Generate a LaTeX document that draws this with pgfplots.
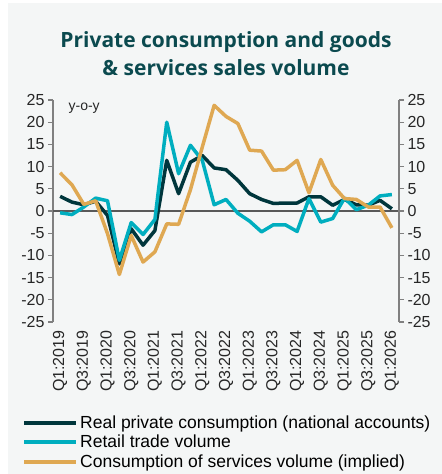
\documentclass[border=0pt]{standalone}
\usepackage{pgfplots}
\pgfplotsset{compat=1.18}
\usepackage{fontspec}
\setmainfont{Liberation Sans}
\newfontfamily\titlefont{Open Sans}
\definecolor{bg}{HTML}{F4F6F6}
\definecolor{darkc}{HTML}{00363C}
\definecolor{tealc}{HTML}{00AEBF}
\definecolor{goldc}{HTML}{DFA852}
\definecolor{titlec}{HTML}{0B4A4F}
\definecolor{axgray}{HTML}{808080}
\definecolor{zerogray}{HTML}{595959}
\pgfplotstableread{
i  pc    rt    sv
0  3.3  -0.4   8.6
1  2.0  -0.8   5.9
2  1.4   0.9   1.5
3  2.2   2.9   2.3
4 -1.0   2.3  -5.1
5 -11.9 -11.1 -14.3
6 -4.0  -2.6  -5.5
7 -7.7  -5.3 -11.5
8 -4.4  -1.9  -9.2
9  11.4  20.0 -2.9
10 3.9   8.4  -3.0
11 11.0  14.8  4.8
12 12.5  11.4 14.4
13 9.7   1.4  23.8
14 9.3   2.6  21.3
15 6.9  -0.5  19.7
16 3.9  -2.3  13.7
17 2.6  -4.7  13.5
18 1.7  -3.1   9.2
19 1.8  -3.1   9.3
20 1.8  -4.6  11.4
21 3.2   2.8   4.1
22 3.2  -2.5  11.6
23 1.3  -1.7   5.8
24 2.6   2.9   2.8
25 1.4   0.3   2.6
26 1.3   1.3   0.9
27 2.4   3.4   0.9
28 0.5   3.7  -3.8
}\data
\begin{document}
\begin{tikzpicture}
\fill[white] (-53bp,-152bp) rectangle (389bp,322bp);
\fill[bg] (-45bp,-152bp) rectangle (389bp,319bp);
\useasboundingbox (-53bp,-152bp) rectangle (389bp,322bp);
\node[font=\titlefont\bfseries\fontsize{21bp}{28bp}\selectfont, text=titlec, align=center] at (173bp,268bp) {Private consumption and goods\\ \& services sales volume};
\begin{axis}[
  at={(0,0)}, anchor=south west, scale only axis,
  width=346bp, height=222bp,
  xmin=-0.6, xmax=28.6, ymin=-25, ymax=25,
  ytick={-25,-20,...,25},
  xtick={0,2,...,28},
  xticklabels={Q1:2019,Q3:2019,Q1:2020,Q3:2020,Q1:2021,Q3:2021,Q1:2022,Q3:2022,Q1:2023,Q3:2023,Q1:2024,Q3:2024,Q1:2025,Q3:2025,Q1:2026},
  axis y line*=left, axis x line*=bottom,
  axis line style={-},
  x axis line style={draw=none},
  xtick style={draw=none},
  y axis line style={axgray, line width=1.5bp},
  ytick style={axgray, line width=1.2bp},
  tick align=outside, major tick length=5bp,
  yticklabel style={font=\fontsize{16bp}{18bp}\selectfont, text=black!85},
  xticklabel style={rotate=90, anchor=east, font=\fontsize{16bp}{18bp}\selectfont, text=black!85},
  /pgf/number format/assume math mode=true,
  legend style={at={(-0.0896,-0.412)}, anchor=north west, draw=none, fill=none,
    font=\fontsize{17.5bp}{20bp}\selectfont, row sep=1.5bp, inner sep=0pt},
  legend cell align=left,
  legend image code/.code={\draw[#1, line width=4bp] (0bp,0bp) -- (52bp,0bp);},
  every axis plot/.append style={line width=3.5bp, line join=round, mark=none},
]
\draw[zerogray, line width=1.5bp] (axis cs:-0.6,0) -- (axis cs:28.6,0);
\addplot[darkc] table[x=i,y=pc]{\data};
\addlegendentry{Real private consumption (national accounts)}
\addplot[tealc] table[x=i,y=rt]{\data};
\addlegendentry{Retail trade volume}
\addplot[goldc] table[x=i,y=sv]{\data};
\addlegendentry{Consumption of services volume (implied)}
\node[anchor=west, font=\fontsize{14bp}{16bp}\selectfont, text=black!85] at (rel axis cs:0.035,0.965) {y-o-y};
\end{axis}
\begin{axis}[
  at={(0,0)}, anchor=south west, scale only axis,
  width=346bp, height=222bp,
  xmin=-0.6, xmax=28.6, ymin=-25, ymax=25,
  ytick={-25,-20,...,25},
  axis y line*=right, axis x line=none,
  axis line style={-},
  y axis line style={axgray, line width=1.5bp},
  ytick style={axgray, line width=1.2bp},
  tick align=outside, major tick length=5bp,
  yticklabel style={font=\fontsize{16bp}{18bp}\selectfont, text=black!85},
  /pgf/number format/assume math mode=true,
]
\addplot[draw=none, forget plot] coordinates {(0,0)};
\end{axis}
\end{tikzpicture}
\end{document}
